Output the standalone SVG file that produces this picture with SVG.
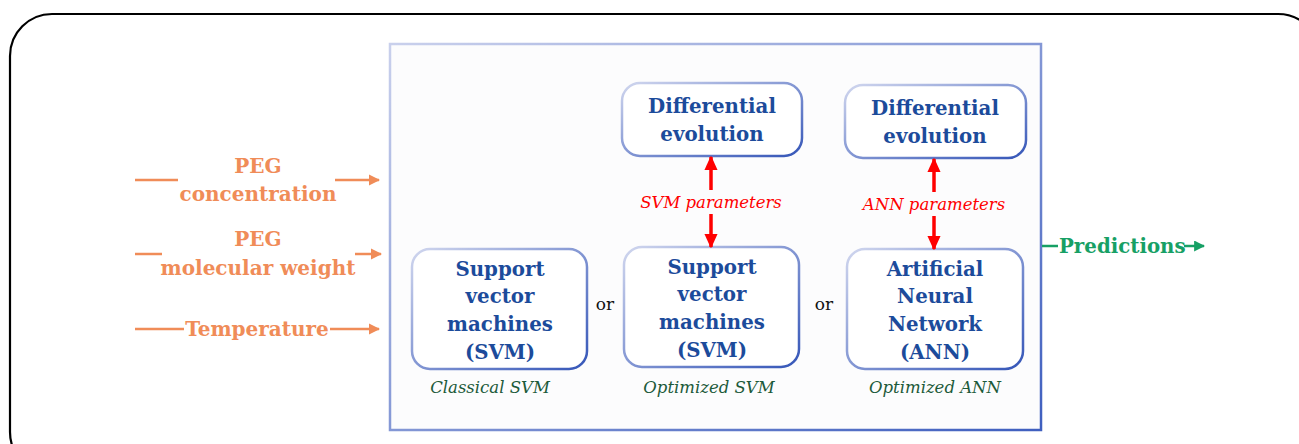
<svg xmlns="http://www.w3.org/2000/svg" width="1299" height="444" viewBox="0 0 1299 444">
  <defs>
    <linearGradient id="frameGrad" x1="0" y1="0" x2="1" y2="1">
      <stop offset="0" stop-color="#c9d0ec"/>
      <stop offset="1" stop-color="#3f5fbf"/>
    </linearGradient>
    <linearGradient id="nodeGrad" x1="0" y1="0" x2="1" y2="1">
      <stop offset="0" stop-color="#d0d6ee"/>
      <stop offset="1" stop-color="#3556b8"/>
    </linearGradient>
    <marker id="redHead" viewBox="0 0 10 10" refX="9" refY="5" markerWidth="4.2" markerHeight="3.8" orient="auto" markerUnits="strokeWidth" preserveAspectRatio="none">
      <path d="M0,0 L10,5 L0,10 z" fill="#ff0000"/>
    </marker>
    <marker id="orangeHead" viewBox="0 0 10 10" refX="9" refY="5" markerWidth="4.6" markerHeight="4.6" orient="auto" markerUnits="strokeWidth">
      <path d="M0,0 L10,5 L0,10 z" fill="#f08c58"/>
    </marker>
    <marker id="greenHead" viewBox="0 0 10 10" refX="9" refY="5" markerWidth="4.4" markerHeight="4.4" orient="auto" markerUnits="strokeWidth">
      <path d="M0,0 L10,5 L0,10 z" fill="#17a065"/>
    </marker>
  </defs>
  <style>
    .node rect { fill: #ffffff; stroke: url(#nodeGrad); stroke-width: 2.5; }
    .ntext { font-family: "DejaVu Serif", "Liberation Serif", serif; font-weight: bold; font-size: 19.8px; fill: #1c4b9b; text-anchor: middle; }
    .param { font-family: "DejaVu Serif", "Liberation Serif", serif; font-style: italic; font-size: 16.5px; fill: #ff0000; text-anchor: middle; }
    .cap { font-family: "DejaVu Serif", "Liberation Serif", serif; font-style: italic; font-size: 16.5px; fill: #1c5a3a; text-anchor: middle; }
    .or { font-family: "DejaVu Serif", "Liberation Serif", serif; font-size: 17px; fill: #111111; text-anchor: middle; }
    .inp { font-family: "DejaVu Serif", "Liberation Serif", serif; font-weight: bold; font-size: 20px; fill: #f08c58; text-anchor: middle; }
    .pred { font-family: "DejaVu Serif", "Liberation Serif", serif; font-weight: bold; font-size: 19.8px; fill: #17a065; }
    .redline { stroke: #ff0000; stroke-width: 3.5; fill: none; }
    .orline { stroke: #f08c58; stroke-width: 2.5; fill: none; }
    .grline { stroke: #17a065; stroke-width: 2.5; fill: none; }
  </style>

  <!-- outer panel -->
  <rect x="10" y="14" width="1310" height="460" rx="42" fill="#ffffff" stroke="#000000" stroke-width="2.2"/>

  <!-- model frame -->
  <rect id="frame" x="390" y="44" width="651" height="386" fill="#fcfcfd" stroke="url(#frameGrad)" stroke-width="2.5"/>

  <g id="de-svm" class="node">
    <rect x="622" y="83" width="180" height="73" rx="18"/>
    <text class="ntext" x="712" y="113">Differential</text>
    <text class="ntext" x="712" y="141">evolution</text>
  </g>

  <g id="de-ann" class="node">
    <rect x="845" y="85" width="181" height="73" rx="18"/>
    <text class="ntext" x="935" y="115">Differential</text>
    <text class="ntext" x="935" y="143">evolution</text>
  </g>

  <g id="svm-classical" class="node">
    <rect x="412" y="249" width="175" height="120" rx="18"/>
    <text class="ntext" x="500" y="276">Support</text>
    <text class="ntext" x="500" y="303">vector</text>
    <text class="ntext" x="500" y="331">machines</text>
    <text class="ntext" x="500" y="359">(SVM)</text>
  </g>

  <g id="svm-optimized" class="node">
    <rect x="624" y="247" width="175" height="120" rx="18"/>
    <text class="ntext" x="712" y="274">Support</text>
    <text class="ntext" x="712" y="301">vector</text>
    <text class="ntext" x="712" y="329">machines</text>
    <text class="ntext" x="712" y="357">(SVM)</text>
  </g>

  <g id="ann-optimized" class="node">
    <rect x="847" y="249" width="176" height="120" rx="18"/>
    <text class="ntext" x="935" y="276">Artificial</text>
    <text class="ntext" x="935" y="303">Neural</text>
    <text class="ntext" x="935" y="331">Network</text>
    <text class="ntext" x="935" y="359">(ANN)</text>
  </g>

  <g id="labels">
    <text class="or" x="605" y="310">or</text>
    <text class="or" x="824" y="310">or</text>
    <text class="cap" x="490" y="393">Classical SVM</text>
    <text class="cap" x="709" y="393">Optimized SVM</text>
    <text class="cap" x="935" y="393">Optimized ANN</text>
  </g>

  <g id="inputs">
    <text class="inp" x="258" y="173">PEG</text>
    <text class="inp" x="258" y="201">concentration</text>
    <text class="inp" x="258" y="246">PEG</text>
    <text class="inp" x="258" y="275">molecular weight</text>
    <text class="inp" x="257" y="336">Temperature</text>
  </g>

  <g id="output">
    <text class="pred" x="1059" y="253">Predictions</text>
  </g>

  <g id="connectors">
    <!-- DE <-> SVM parameters -->
    <line class="redline" x1="711" y1="190" x2="711" y2="157" marker-end="url(#redHead)"/>
    <line class="redline" x1="711" y1="214" x2="711" y2="247" marker-end="url(#redHead)"/>
    <text class="param" x="711" y="208">SVM parameters</text>
    <!-- DE <-> ANN parameters -->
    <line class="redline" x1="934" y1="192" x2="934" y2="159" marker-end="url(#redHead)"/>
    <line class="redline" x1="934" y1="216" x2="934" y2="249" marker-end="url(#redHead)"/>
    <text class="param" x="934" y="210">ANN parameters</text>

    <!-- inputs into frame -->
    <line class="orline" x1="135" y1="180" x2="178" y2="180"/>
    <line class="orline" x1="335" y1="180" x2="379" y2="180" marker-end="url(#orangeHead)"/>
    <line class="orline" x1="135" y1="254" x2="162" y2="254"/>
    <line class="orline" x1="355" y1="254" x2="381" y2="254" marker-end="url(#orangeHead)"/>
    <line class="orline" x1="135" y1="329" x2="184" y2="329"/>
    <line class="orline" x1="330" y1="329" x2="379" y2="329" marker-end="url(#orangeHead)"/>

    <!-- frame to predictions -->
    <line class="grline" x1="1042" y1="246" x2="1058" y2="246"/>
    <line class="grline" x1="1184" y1="246" x2="1204" y2="246" marker-end="url(#greenHead)"/>
  </g>
</svg>
